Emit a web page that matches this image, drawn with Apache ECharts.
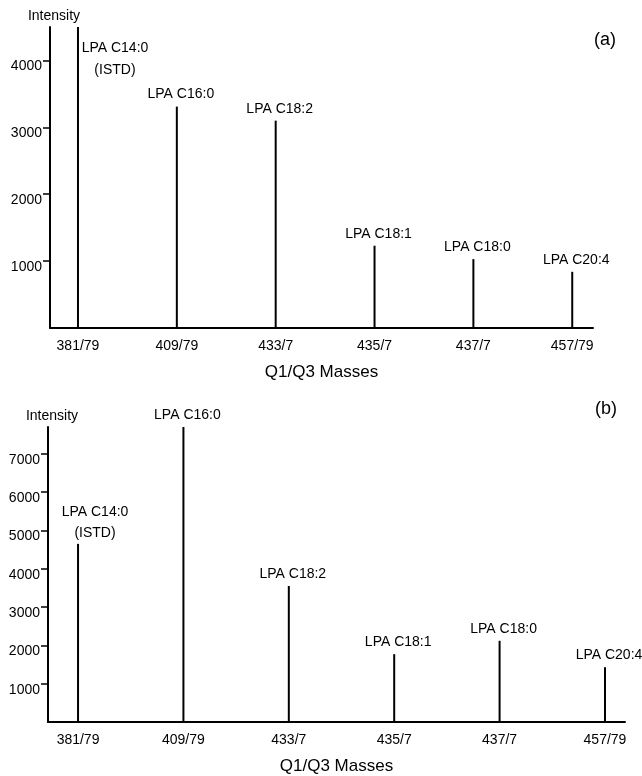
<!DOCTYPE html>
<html>
<head>
<meta charset="utf-8">
<script src="https://cdn.jsdelivr.net/npm/echarts@6/dist/echarts.min.js"></script>
<style>html,body{margin:0;padding:0;background:#fff}#c{width:642px;height:776px}</style>
</head>
<body>
<div id="c"></div>
<script>
const categories = ['381/79', '409/79', '433/7', '435/7', '437/7', '457/79'];
const lipids = ['LPA C14:0\n(ISTD)', 'LPA C16:0', 'LPA C18:2', 'LPA C18:1', 'LPA C18:0', 'LPA C20:4'];
const intensityA = [4500, 3310, 3100, 1230, 1030, 840];
const intensityB = [4650, 7700, 3550, 1770, 2120, 1430];
const yTicksA = [1000, 2000, 3000, 4000];
const yTicksB = [1000, 2000, 3000, 4000, 5000, 6000, 7000];
const panelTags = ['(a)', '(b)'];

const FONT = '"Liberation Sans", Arial, Helvetica, sans-serif';
const chart = echarts.init(document.getElementById('c'), null, {renderer: 'canvas'});

function xAxisFor(gridIndex, min, max) {
  return {
    type: 'value', gridIndex, min, max,
    splitLine: {show: false},
    axisLine: {show: true, onZero: false, lineStyle: {color: '#000', width: 2}},
    axisTick: {show: false},
    axisLabel: {
      customValues: categories.map((c, i) => i),
      formatter: v => categories[Math.round(v)] || '',
      color: '#000', fontSize: 14, fontFamily: FONT, margin: 11
    },
    name: 'Q1/Q3 Masses', nameLocation: 'middle', nameGap: 36,
    nameTextStyle: {color: '#000', fontSize: 17, fontFamily: FONT}
  };
}
function yAxisFor(gridIndex, max, ticks) {
  return {
    type: 'value', gridIndex, min: 0, max,
    splitLine: {show: false},
    axisLine: {show: true, onZero: false, lineStyle: {color: '#000', width: 2}},
    axisTick: {show: true, length: 7, customValues: ticks, lineStyle: {color: '#000', width: 1.5}},
    axisLabel: {
      customValues: ticks, color: '#000', fontSize: 14, fontFamily: FONT,
      formatter: v => String(v),
      margin: 8, verticalAlign: 'top', padding: [-1, 0, 0, 0]
    },
    name: 'Intensity', nameLocation: 'end', nameGap: 4,
    nameTextStyle: {color: '#000', fontSize: 14, fontFamily: FONT, align: 'center', padding: [0, 0, 0, 8]}
  };
}
function seriesFor(idx, values, firstLabel) {
  return {
    type: 'bar', xAxisIndex: idx, yAxisIndex: idx, barWidth: 2,
    itemStyle: {color: '#000'},
    label: {
      show: true, position: 'top', distance: 4, offset: [4, 0],
      color: '#000', fontSize: 14, fontFamily: FONT, lineHeight: 16,
      formatter: p => lipids[p.dataIndex]
    },
    data: values.map((v, i) => i === 0 ? {value: [i, v], label: firstLabel} : [i, v])
  };
}

chart.setOption({
  animation: false,
  backgroundColor: '#fff',
  grid: [
    {left: 50, right: 49, top: 27, height: 301},
    {left: 48, right: 17, top: 427, height: 295}
  ],
  xAxis: [xAxisFor(0, -0.283, 5.21), xAxisFor(1, -0.285, 5.19)],
  yAxis: [yAxisFor(0, 4500, yTicksA), yAxisFor(1, 7700, yTicksB)],
  graphic: [
    {type: 'text', left: 594, top: 31, style: {text: panelTags[0], fill: '#000', font: '18px ' + FONT}},
    {type: 'text', left: 595, top: 400, style: {text: panelTags[1], fill: '#000', font: '18px ' + FONT}}
  ],
  series: [
    seriesFor(0, intensityA, {position: [38, 10], align: 'center', verticalAlign: 'top', offset: [0, 0], lineHeight: 22}),
    seriesFor(1, intensityB, {position: 'top', distance: 0, offset: [17, 0], lineHeight: 21})
  ]
});
</script>
</body>
</html>
